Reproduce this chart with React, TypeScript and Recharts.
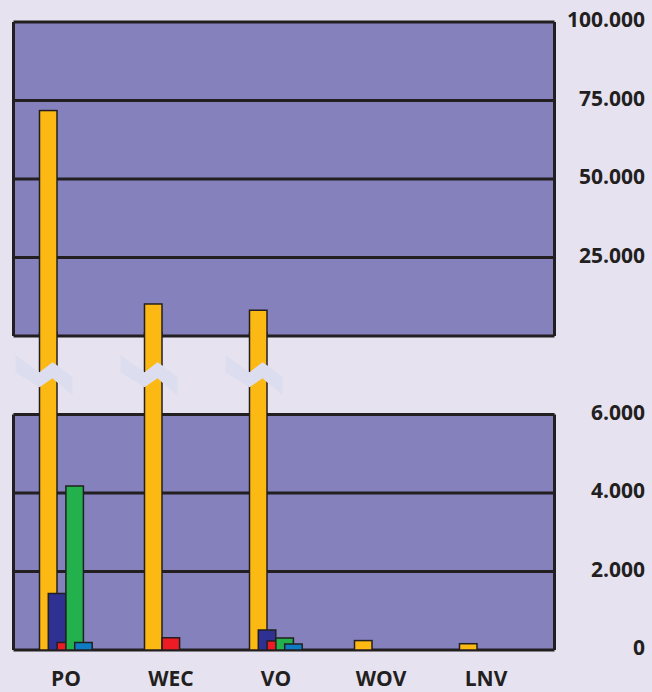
import { BarChart, Bar, XAxis, YAxis, CartesianGrid } from 'recharts';

const CATEGORIES = ['PO', 'WEC', 'VO', 'WOV', 'LNV'];
const YELLOW = [71800, 10200, 8200, 240, 160];
const NAVY = [1440, 0, 510, 0, 0];
const RED = [190, 315, 230, 0, 0];
const GREEN = [4180, 0, 305, 0, 0];
const BLUE = [190, 0, 150, 0, 0];

const TOP_TICKS = [0, 25000, 50000, 75000, 100000];
const BOTTOM_TICKS = [0, 2000, 4000, 6000];

const data = CATEGORIES.map((name, i) => ({
  name,
  yellow: YELLOW[i],
  navy: NAVY[i],
  red: RED[i],
  green: GREEN[i],
  blue: BLUE[i],
}));

const W = 652;
const H = 692;
const PLOT_LEFT = 13.5;
const AXIS_W = 97.5;
const TOP_Y0 = 22;
const TOP_Y1 = 336;
const BOT_Y0 = 414.5;
const BOT_Y1 = 650;
const GAP_TOP = 332;
const BOTTOM_LIMIT = 6000;
const BOTTOM_MAX = (BOTTOM_LIMIT * (BOT_Y1 - GAP_TOP)) / (BOT_Y1 - BOT_Y0);
const BREAK_VALUE = 7000;
const X_PAD = { left: 0, right: 16 };

const BG = '#e6e2f0';
const PANEL = '#8581bc';
const DARK = '#231f20';
const FONT = '"Open Sans", "Noto Sans", sans-serif';

const SERIES = [
  { key: 'yellow', color: '#fdb913' },
  { key: 'navy', color: '#2e3192' },
  { key: 'red', color: '#ed1c24' },
  { key: 'green', color: '#22b14c' },
  { key: 'blue', color: '#0e7cc2' },
];

// zigzag break mark, relative to bar left edge / gap centre
const BREAK_PTS = [
  [-24, -20], [0, -3], [13, -13], [17.5, -10], [33, 2],
  [33, 20], [17.5, 7], [13, 3], [0, 12], [-24, -3],
];

const fmt = (v: number) => String(v).replace(/\B(?=(\d{3})+(?!\d))/g, '.');

const YTick = ({ y, payload, skipZero }: any) =>
  skipZero && payload.value === 0 ? null : (
    <text x={645} y={y + 5} textAnchor="end" fontFamily={FONT} fontWeight={700} fontSize={21} fill={DARK}>
      {fmt(payload.value)}
    </text>
  );

const XTick = ({ x, y, payload }: any) => (
  <text x={x} y={y + 28} textAnchor="middle" fontFamily={FONT} fontWeight={700} fontSize={21} fill={DARK}>
    {payload.value}
  </text>
);

const edges = ({ offset }: any) => [offset.left, offset.left + offset.width];
const noShape = () => null;

// top panel: only the bars that run past the lower panel
const TopBar = (props: any) => {
  const { x, y, width, height, fill, payload } = props;
  if (!height || payload.yellow <= BOTTOM_LIMIT) return null;
  return <rect x={x} y={y} width={width} height={height} fill={fill} stroke={DARK} strokeWidth={1.5} />;
};

const BrokenBar = (props: any) => {
  const { x, y, width, height, fill, payload } = props;
  if (!height) return null;
  const bottom = y + height;
  const ppu = height / payload.yellow;
  const broken = payload.yellow > BOTTOM_LIMIT;
  const cy = bottom - ppu * BREAK_VALUE;
  const s = width / 17.5;
  return (
    <g>
      <rect x={x} y={y} width={width} height={height} fill={fill} stroke={DARK} strokeWidth={1.5} />
      {broken && (
        <polygon
          points={BREAK_PTS.map(([px, py]) => `${x + px * s},${cy + py * s}`).join(' ')}
          fill="#dcddef"
        />
      )}
    </g>
  );
};

const layer: any = { position: 'absolute', left: 0, top: 0 };

const App = () => {
  return (
    <div style={{ position: 'absolute', left: 0, top: 0, width: W, height: H, background: BG, overflow: 'hidden' }}>
      {/* upper panel, 0 - 100.000 */}
      <div style={layer}>
        <BarChart
          width={W}
          height={H}
          data={data}
          margin={{ top: TOP_Y0, right: 0, bottom: H - TOP_Y1, left: PLOT_LEFT }}
          barSize={17.5}
          barGap={-8.7}
        >
          <CartesianGrid fill={PANEL} fillOpacity={1} stroke={DARK} strokeWidth={3} verticalCoordinatesGenerator={edges} />
          <XAxis dataKey="name" hide padding={X_PAD} />
          <YAxis
            orientation="right"
            width={AXIS_W}
            domain={[0, 100000]}
            ticks={TOP_TICKS}
            interval={0}
            axisLine={false}
            tickLine={false}
            tick={<YTick skipZero />}
          />
          {SERIES.map((s) => (
            <Bar
              key={s.key}
              dataKey={s.key}
              fill={s.color}
              shape={s.key === 'yellow' ? <TopBar /> : noShape}
              isAnimationActive={false}
            />
          ))}
        </BarChart>
      </div>
      {/* lower panel background, 0 - 6.000 */}
      <div style={layer}>
        <BarChart
          width={W}
          height={H}
          data={data}
          margin={{ top: BOT_Y0, right: 0, bottom: H - BOT_Y1, left: PLOT_LEFT }}
        >
          <CartesianGrid fill={PANEL} fillOpacity={1} stroke={DARK} strokeWidth={3} verticalCoordinatesGenerator={edges} />
          <XAxis dataKey="name" hide padding={X_PAD} />
          <YAxis
            orientation="right"
            width={AXIS_W}
            domain={[0, BOTTOM_LIMIT]}
            allowDataOverflow
            ticks={BOTTOM_TICKS}
            interval={0}
            axisLine={false}
            tickLine={false}
            tick={<YTick />}
          />
          <Bar dataKey="navy" shape={noShape} isAnimationActive={false} />
        </BarChart>
      </div>
      {/* lower panel bars, running up through the break */}
      <div style={layer}>
        <BarChart
          width={W}
          height={H}
          data={data}
          margin={{ top: GAP_TOP, right: 0, bottom: 0, left: PLOT_LEFT }}
          barSize={17.5}
          barGap={-8.7}
        >
          <XAxis
            dataKey="name"
            height={H - BOT_Y1}
            padding={X_PAD}
            axisLine={false}
            tickLine={false}
            interval={0}
            tick={<XTick />}
          />
          <YAxis
            orientation="right"
            width={AXIS_W}
            domain={[0, BOTTOM_MAX]}
            allowDataOverflow
            ticks={BOTTOM_TICKS}
            axisLine={false}
            tickLine={false}
            tick={false}
          />
          {SERIES.map((s) => (
            <Bar
              key={s.key}
              dataKey={s.key}
              fill={s.color}
              stroke={DARK}
              strokeWidth={1.5}
              shape={s.key === 'yellow' ? <BrokenBar /> : undefined}
              isAnimationActive={false}
            />
          ))}
        </BarChart>
      </div>
    </div>
  );
};

export default App;
